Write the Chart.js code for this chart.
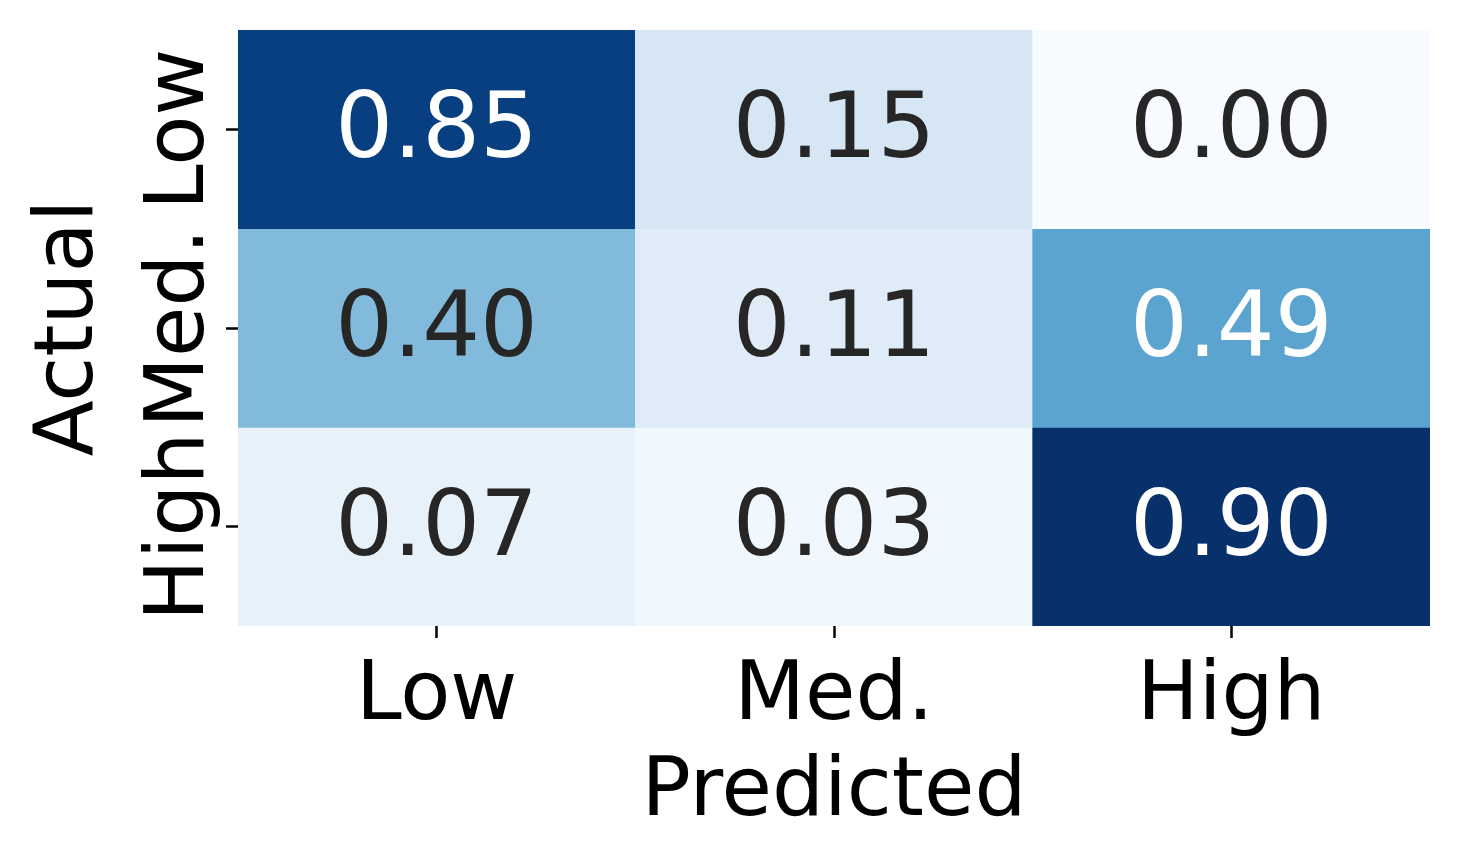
<!DOCTYPE html>
<html>
<head>
<meta charset="utf-8">
<script src="https://cdn.jsdelivr.net/npm/chart.js@4.4.1/dist/chart.umd.min.js"></script>
<style>
  body { margin: 0; background: #fff; }
</style>
</head>
<body>
<canvas id="cm" width="1460" height="864"></canvas>
<script>
// confusion matrix, rows = actual, columns = predicted
const predictedLabels = ['Low', 'Med.', 'High'];
const actualLabels = ['Low', 'Med.', 'High'];
const rowLow = [0.85, 0.15, 0.00];
const rowMed = [0.40, 0.11, 0.49];
const rowHigh = [0.07, 0.03, 0.90];
const rows = [rowLow, rowMed, rowHigh];

const FONT = "'DejaVu Sans', sans-serif";

// matplotlib "Blues"
const blues = ['#f7fbff', '#deebf7', '#c6dbef', '#9ecae1', '#6baed6', '#4292c6', '#2171b5', '#08519c', '#08306b'];
const allVals = rows.flat();
const vmin = Math.min(...allVals);
const vmax = Math.max(...allVals);

function hexToRgb(h) {
    return [parseInt(h.slice(1, 3), 16), parseInt(h.slice(3, 5), 16), parseInt(h.slice(5, 7), 16)];
}

function bluesRgb(v) {
    let t = (v - vmin) / (vmax - vmin);
    t = Math.max(0, Math.min(1, t)) * (blues.length - 1);
    const i = Math.min(Math.floor(t), blues.length - 2);
    const f = t - i;
    const a = hexToRgb(blues[i]), b = hexToRgb(blues[i + 1]);
    return a.map((c, k) => Math.round(c + (b[k] - c) * f));
}

function cellColor(v) {
    const c = bluesRgb(v);
    return `rgb(${c[0]}, ${c[1]}, ${c[2]})`;
}

function textColor(v) {
    const lum = bluesRgb(v).map(c => {
        c /= 255;
        return c <= 0.03928 ? c / 12.92 : Math.pow((c + 0.055) / 1.055, 2.4);
    });
    const l = 0.2126 * lum[0] + 0.7152 * lum[1] + 0.0722 * lum[2];
    return l > 0.408 ? '#262626' : '#ffffff';
}

const datasets = rows.map((row, r) => ({
    label: actualLabels[r],
    data: row.map(() => [r, r + 1]),
    values: row,
    backgroundColor: row.map(v => cellColor(v)),
    borderWidth: 0,
    grouped: false,
    barPercentage: 1,
    categoryPercentage: 1,
}));

const annotate = {
    id: 'annotate',
    afterDatasetsDraw(chart) {
        const ctx = chart.ctx;
        ctx.save();
        ctx.font = `91px ${FONT}`;
        ctx.textAlign = 'center';
        ctx.textBaseline = 'alphabetic';
        chart.data.datasets.forEach((ds, di) => {
            chart.getDatasetMeta(di).data.forEach((bar, i) => {
                const v = ds.values[i];
                const cy = (bar.y + bar.base) / 2;
                ctx.fillStyle = textColor(v);
                ctx.fillText(v.toFixed(2), bar.x, cy + 28);
            });
        });
        ctx.restore();

        // rotated tick labels on the actual axis
        const ys = chart.scales.y;
        ctx.save();
        ctx.font = `82px ${FONT}`;
        ctx.fillStyle = '#000';
        ctx.textAlign = 'center';
        ctx.textBaseline = 'alphabetic';
        ys.ticks.forEach((t, i) => {
            ctx.save();
            ctx.translate(chart.chartArea.left - 35, ys.getPixelForValue(t.value));
            ctx.rotate(-Math.PI / 2);
            ctx.fillText(actualLabels[i], 0, 0);
            ctx.restore();
        });
        ctx.restore();
    }
};

new Chart(document.getElementById('cm'), {
    type: 'bar',
    data: {
        labels: predictedLabels,
        datasets: datasets
    },
    options: {
        responsive: false,
        animation: false,
        layout: { padding: { left: 0, right: 30, top: 30, bottom: 0 } },
        plugins: {
            legend: { display: false },
            tooltip: { enabled: false }
        },
        scales: {
            x: {
                grid: {
                    offset: false,
                    drawOnChartArea: false,
                    drawTicks: true,
                    tickLength: 12,
                    tickWidth: 2.5,
                    tickColor: '#000'
                },
                border: { display: false },
                ticks: {
                    color: '#000',
                    font: { family: FONT, size: 82, lineHeight: 1 },
                    padding: 19,
                    maxRotation: 0
                },
                title: {
                    display: true,
                    text: 'Predicted',
                    color: '#000',
                    font: { family: FONT, size: 82, lineHeight: 1 },
                    padding: { top: 0, bottom: 29 }
                },
                afterFit: s => { s.height = 238; }
            },
            y: {
                type: 'linear',
                min: 0,
                max: 3,
                reverse: true,
                afterBuildTicks: s => {
                    s.ticks = actualLabels.map((_, i) => ({ value: i + 0.5 }));
                },
                grid: {
                    drawOnChartArea: false,
                    drawTicks: true,
                    tickLength: 12,
                    tickWidth: 2.5,
                    tickColor: '#000'
                },
                border: { display: false },
                ticks: { display: false },
                title: {
                    display: true,
                    text: 'Actual',
                    color: '#000',
                    font: { family: FONT, size: 82, lineHeight: 1 },
                    padding: { top: 30, bottom: 0 }
                },
                afterFit: s => { s.width = 238; }
            }
        }
    },
    plugins: [annotate]
});
</script>
</body>
</html>
